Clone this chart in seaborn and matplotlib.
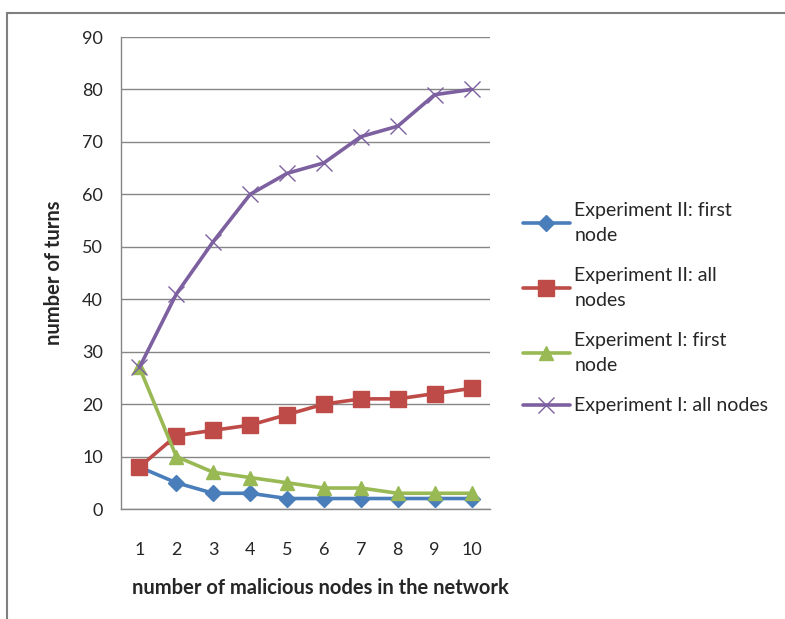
import pandas as pd
import seaborn as sns
import matplotlib.pyplot as plt
from matplotlib.patches import Rectangle
from matplotlib.ticker import FixedLocator

# number of malicious nodes
nodes = [1, 2, 3, 4, 5, 6, 7, 8, 9, 10]

exp2_first = [8, 5, 3, 3, 2, 2, 2, 2, 2, 2]
exp2_all = [8, 14, 15, 16, 18, 20, 21, 21, 22, 23]
exp1_first = [27, 10, 7, 6, 5, 4, 4, 3, 3, 3]
exp1_all = [27, 41, 51, 60, 64, 66, 71, 73, 79, 80]

labels = ["Experiment II: first\nnode", "Experiment II: all\nnodes",
          "Experiment I: first\nnode", "Experiment I: all nodes"]
series = [exp2_first, exp2_all, exp1_first, exp1_all]
colors = ["#4A7EBB", "#BE4B48", "#98B954", "#7D60A0"]
markers = ["D", "s", "^", "x"]
msizes = [8, 11, 10, 12]

rows = []
for lab, vals in zip(labels, series):
    for n, v in zip(nodes, vals):
        rows.append({"nodes": n, "turns": v, "series": lab})
df = pd.DataFrame(rows)

sns.set_style("white")
plt.rcParams["font.family"] = ["Lato", "DejaVu Sans"]

fig = plt.figure(figsize=(7.85, 6.19), dpi=100)
ax = fig.add_axes([121 / 785, 1 - 509 / 619, 369 / 785, 472 / 619])

for lab, c, m, ms in zip(labels, colors, markers, msizes):
    sub = df[df["series"] == lab]
    sns.lineplot(data=sub, x="nodes", y="turns", ax=ax, color=c, marker=m,
                 markersize=ms, linewidth=2.6, label=lab,
                 markeredgecolor=c, markeredgewidth=1)

ax.set_xlim(0.5, 10.5)
ax.set_ylim(0, 90)
ax.set_yticks(range(0, 91, 10))
ax.set_xticks(nodes)
ax.xaxis.set_minor_locator(FixedLocator([i + 0.5 for i in range(0, 11)]))
ax.tick_params(axis="x", which="major", length=0, pad=24, labelsize=13,
               labelcolor="#262626")
ax.tick_params(axis="x", which="minor", length=6, color="#868686", direction="out")
ax.tick_params(axis="y", length=7, color="#868686", direction="out", labelsize=13,
               pad=6, labelcolor="#262626")
ax.yaxis.grid(True, color="#868686", linewidth=1)
ax.set_axisbelow(True)
for s in ["top", "right"]:
    ax.spines[s].set_visible(False)
for s in ["left", "bottom"]:
    ax.spines[s].set_color("#868686")
    ax.spines[s].set_linewidth(1)

ax.set_xlabel("number of malicious nodes in the network", fontsize=14.5,
              fontweight="bold")
ax.xaxis.set_label_coords(0.54, -0.146)
ax.set_ylabel("number of turns", fontsize=14.5, fontweight="bold", labelpad=13)

leg = ax.legend(loc="center left", bbox_to_anchor=(1.068, 0.425), frameon=False,
                fontsize=14, handlelength=2.4, labelspacing=1.2,
                handletextpad=0.25, borderaxespad=0)
for t in leg.get_texts():
    t.set_linespacing(1.55)
    t.set_color("#262626")

fig.patches.append(Rectangle((7 / 785, -0.1), 1.2, 1.1 - 13 / 619,
                             transform=fig.transFigure, fill=False,
                             edgecolor="#7F7F7F", linewidth=1.5))

fig.savefig("out.png", dpi=100)
